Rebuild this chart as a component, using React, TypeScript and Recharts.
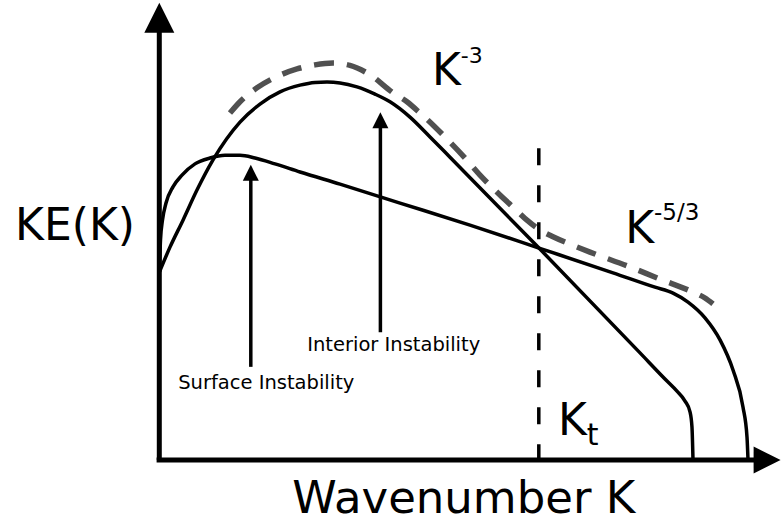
import React from "react";
import { LineChart, Line, XAxis, YAxis, ReferenceLine, ReferenceDot } from "recharts";

// Schematic kinetic-energy spectra, KE(K) against wavenumber K (arbitrary units).
const surfaceK = [0.08, 0.25, 0.58, 1.17, 2.33, 3.83, 6.0, 8.5, 11.0, 13.5, 16.0, 19.33, 23.5, 30.17, 40.17, 51.83, 63.33, 75.67, 82.67, 85.67, 88.17, 91.0, 93.5, 95.67, 97.33, 98.0, 98.17];
const surfaceE = [41.8, 48.9, 53.3, 57.1, 60.7, 63.3, 65.8, 67.1, 67.7, 67.7, 67.1, 65.8, 64.0, 61.3, 57.1, 52.2, 47.1, 41.6, 38.4, 37.1, 35.1, 31.6, 26.7, 20.0, 11.8, 5.1, 0];

const interiorK = [0.08, 1.83, 4.0, 6.33, 9.0, 13.5, 16.83, 20.17, 23.5, 26.0, 28.0, 30.17, 33.0, 36.0, 38.5, 41.83, 45.17, 48.5, 63.33, 80.17, 84.33, 86.33, 87.67, 88.5, 88.83, 89.0];
const interiorE = [41.8, 47.3, 53.3, 60.0, 66.7, 75.1, 79.1, 81.8, 83.3, 83.9, 84.0, 83.8, 82.9, 81.3, 79.6, 76.2, 71.8, 67.3, 47.1, 23.8, 18.0, 15.3, 13.1, 10.7, 7.3, 0];

const totalK = [11.83, 13.5, 16.33, 19.33, 23.0, 26.0, 29.0, 31.83, 35.17, 39.0, 41.33, 43.5, 46.0, 48.17, 50.67, 53.5, 56.83, 59.33, 61.33, 63.5, 65.67, 69.0, 71.83, 78.5, 83.5, 88.5, 91.0, 92.33];
const totalE = [77.1, 79.6, 82.7, 85.0, 86.9, 87.8, 88.2, 87.7, 85.6, 81.6, 79.6, 77.1, 74.0, 71.1, 67.6, 63.3, 58.9, 55.8, 53.3, 51.1, 49.6, 47.7, 46.2, 42.9, 40.2, 37.6, 36.0, 34.7];

// Transition wavenumber and the instability injection points
const transitionK = 63.3;
const transitionTop = 69.3;
const surfaceArrow = { k: 15.3, from: 20.7, to: 65.6 };
const interiorArrow = { k: 36.9, from: 28.4, to: 77.3 };

const zip = (ks: number[], es: number[]) => ks.map((k, i) => ({ k, e: es[i] }));
const surfaceData = zip(surfaceK, surfaceE);
const interiorData = zip(interiorK, interiorE);
const totalData = zip(totalK, totalE);

const FONT = "DejaVu Sans";

function arrowShape(head: number, width: number) {
  return (props: any) => {
    const { x1, y1, x2, y2, stroke, strokeWidth } = props;
    const dx = x2 - x1;
    const dy = y2 - y1;
    const len = Math.hypot(dx, dy) || 1;
    const ux = dx / len;
    const uy = dy / len;
    const bx = x2 - ux * head;
    const by = y2 - uy * head;
    const px = (-uy * width) / 2;
    const py = (ux * width) / 2;
    return (
      <g>
        <line x1={x1} y1={y1} x2={bx + ux} y2={by + uy} stroke={stroke} strokeWidth={strokeWidth} />
        <polygon points={`${x2},${y2} ${bx + px},${by + py} ${bx - px},${by - py}`} fill={stroke} />
      </g>
    );
  };
}

function textShape(render: (x: number, y: number) => React.ReactElement) {
  return (props: any) => render(props.cx, props.cy);
}

export default function App() {
  return (
    <div style={{ width: 782, height: 523, background: "#fff" }}>
      <style>{"body{margin:0}"}</style>
      <LineChart width={782} height={523} margin={{ top: 10, right: 23, bottom: 63, left: 159 }}>
        <XAxis type="number" dataKey="k" domain={[0, 100]} hide allowDataOverflow />
        <YAxis type="number" dataKey="e" domain={[0, 100]} hide allowDataOverflow />

        {/* transition wavenumber */}
        <ReferenceLine
          segment={[{ x: transitionK, y: transitionTop }, { x: transitionK, y: 0 }]}
          stroke="#000"
          strokeWidth={3.5}
          strokeDasharray="17 20"
          ifOverflow="visible"
        />

        <Line data={surfaceData} dataKey="e" type="monotone" stroke="#000" strokeWidth={3.5} dot={false} activeDot={false} isAnimationActive={false} />
        <Line data={interiorData} dataKey="e" type="monotone" stroke="#000" strokeWidth={3.5} dot={false} activeDot={false} isAnimationActive={false} />
        <Line data={totalData} dataKey="e" type="monotone" stroke="#505050" strokeWidth={5.5} strokeDasharray="20 13" dot={false} activeDot={false} isAnimationActive={false} />

        {/* axes with arrowheads */}
        <ReferenceLine segment={[{ x: 0.05, y: 0 }, { x: 0.05, y: 101.6 }]} stroke="#000" strokeWidth={5} ifOverflow="visible" shape={arrowShape(30, 30)} />
        <ReferenceLine segment={[{ x: -0.4, y: 0 }, { x: 103.6, y: 0 }]} stroke="#000" strokeWidth={5} ifOverflow="visible" shape={arrowShape(27, 27)} />

        {/* instability injection arrows */}
        <ReferenceLine segment={[{ x: surfaceArrow.k, y: surfaceArrow.from }, { x: surfaceArrow.k, y: surfaceArrow.to }]} stroke="#000" strokeWidth={3.5} ifOverflow="visible" shape={arrowShape(16, 16)} />
        <ReferenceLine segment={[{ x: interiorArrow.k, y: interiorArrow.from }, { x: interiorArrow.k, y: interiorArrow.to }]} stroke="#000" strokeWidth={3.5} ifOverflow="visible" shape={arrowShape(16, 16)} />

        {/* labels */}
        <ReferenceDot x={-14} y={48.9} r={0} ifOverflow="visible" shape={textShape((x, y) => (
          <text x={x} y={y} textAnchor="middle" fontFamily={FONT} fontSize={44} fill="#000">KE(K)</text>
        ))} />
        <ReferenceDot x={50.8} y={-11.8} r={0} ifOverflow="visible" shape={textShape((x, y) => (
          <text x={x} y={y} textAnchor="middle" fontFamily={FONT} fontSize={45} fill="#000">Wavenumber K</text>
        ))} />
        <ReferenceDot x={45.5} y={83.3} r={0} ifOverflow="visible" shape={textShape((x, y) => (
          <text x={x} y={y} fontFamily={FONT} fontSize={44} fill="#000">
            K<tspan dy={-22} fontSize={22}>-3</tspan>
          </text>
        ))} />
        <ReferenceDot x={77.7} y={48.2} r={0} ifOverflow="visible" shape={textShape((x, y) => (
          <text x={x} y={y} fontFamily={FONT} fontSize={44} fill="#000">
            K<tspan dy={-23} fontSize={23}>-5/3</tspan>
          </text>
        ))} />
        <ReferenceDot x={66.5} y={5.6} r={0} ifOverflow="visible" shape={textShape((x, y) => (
          <text x={x} y={y} fontFamily={FONT} fontSize={44} fill="#000">
            K<tspan dy={10} fontSize={30}>t</tspan>
          </text>
        ))} />
        <ReferenceDot x={24.7} y={24.2} r={0} ifOverflow="visible" shape={textShape((x, y) => (
          <text x={x} y={y} fontFamily={FONT} fontSize={19.5} fill="#000">Interior Instability</text>
        ))} />
        <ReferenceDot x={3.2} y={15.8} r={0} ifOverflow="visible" shape={textShape((x, y) => (
          <text x={x} y={y} fontFamily={FONT} fontSize={19.5} fill="#000">Surface Instability</text>
        ))} />
      </LineChart>
    </div>
  );
}
